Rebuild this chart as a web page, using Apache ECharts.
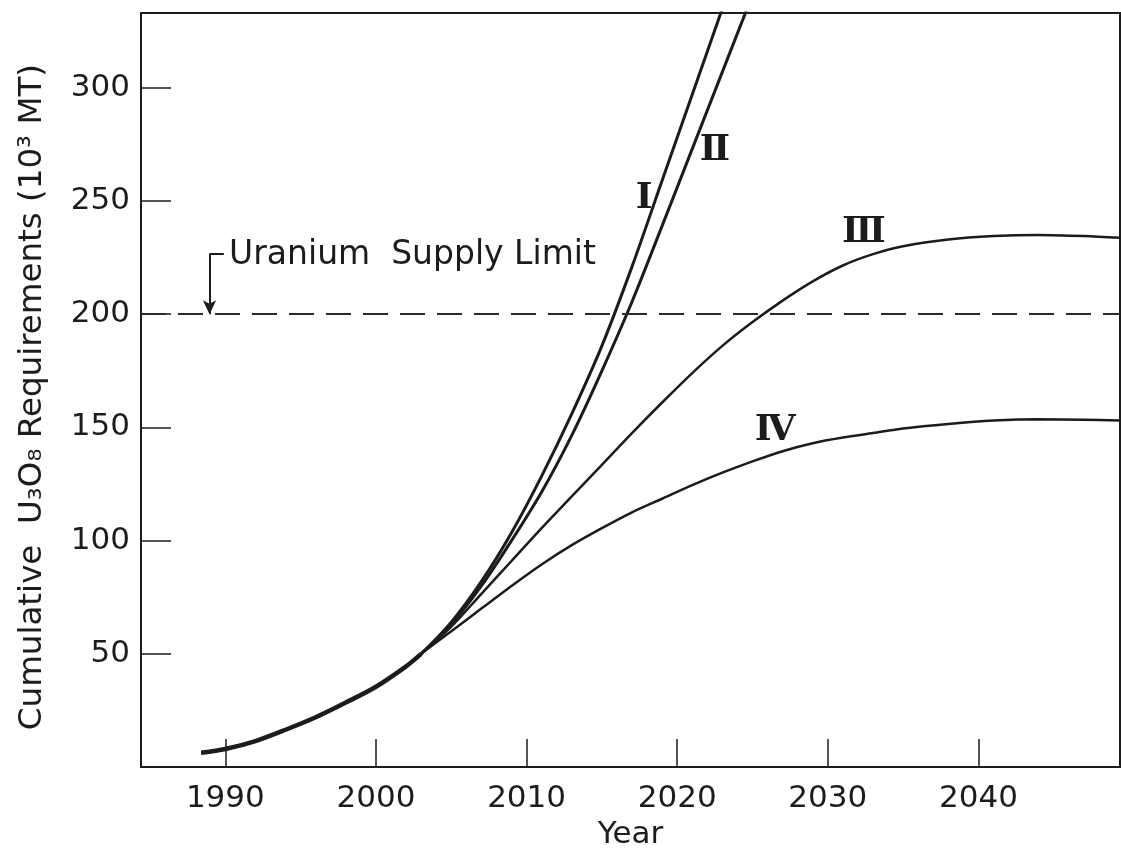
<!DOCTYPE html>
<html>
<head>
<meta charset="utf-8">
<script src="https://cdn.jsdelivr.net/npm/echarts@6/dist/echarts.min.js"></script>
<style>
  html, body { margin: 0; padding: 0; background: #ffffff; }
  #chart { width: 1121px; height: 855px; }
</style>
</head>
<body>
<div id="chart"></div>
<script>
// ---- data ----
const xTickYears = [1990, 2000, 2010, 2020, 2030, 2040];
const yTickValues = [50, 100, 150, 200, 250, 300];

const commonYears  = [1988.4, 1990, 1992, 1994, 1996, 1998, 2000, 2002, 2003];
const commonValues = [6.3, 8, 11.5, 16.5, 22, 28.5, 35.5, 44.5, 50];

const yearsI  = [2005, 2007, 2009, 2011, 2013, 2015, 2017, 2019, 2021, 2023, 2025];
const valuesI = [64, 82, 103.5, 128.5, 156, 186, 221, 259, 297, 335, 373];

const yearsII  = [2005, 2007, 2009, 2011, 2013, 2015, 2017, 2019, 2021, 2023, 2025, 2027];
const valuesII = [63, 80, 100, 121.5, 146.5, 175, 205.5, 239, 273, 307, 341, 375];

const yearsIII  = [2005, 2007, 2009, 2011, 2013, 2015, 2017, 2019, 2021, 2023, 2025, 2027, 2029, 2031, 2033, 2035, 2038, 2041, 2044, 2047, 2049.4];
const valuesIII = [62, 76.5, 91, 105.5, 119.5, 133.5, 147.5, 161, 174, 186, 196.5, 206, 214.5, 221.5, 226.5, 230, 233, 234.5, 235, 234.5, 233.7];

const yearsIV  = [2005, 2007, 2009, 2011, 2013, 2015, 2017, 2019, 2021, 2023, 2025, 2027, 2029, 2031, 2033, 2035, 2038, 2041, 2044, 2047, 2049.4];
const valuesIV = [60, 70, 80, 89.5, 98, 105.5, 112.5, 118.5, 124.5, 130, 135, 139.5, 143, 145.5, 147.5, 149.5, 151.5, 153, 153.6, 153.4, 153];

const supplyLimit = 200;
const supplyLimitText = 'Uranium  Supply Limit';
const supplyLabelAnchor = [1990.25, 225.8];
const supplyArrowTop = [1988.95, 226.8];
const supplyBracketEnd = [1989.9, 226.8];

const curveNames  = ['Ⅰ', 'Ⅱ', 'Ⅲ', 'Ⅳ'];
const curveLabelAt = [[2017.8, 251], [2022.5, 272], [2032.4, 236], [2026.5, 148.5]];

const xMin = 1984.4, xMax = 2049.4, yMin = 0, yMax = 333;

// ---- build ----
function pairs(xs, ys) { return xs.map((x, i) => [x, ys[i]]); }
function withCommon(xs, ys) { return pairs(commonYears, commonValues).concat(pairs(xs, ys)); }

const INK = '#1c1c1c';
const FONT = 'DejaVu Sans';

const chart = echarts.init(document.getElementById('chart'), null, { renderer: 'canvas' });

const curveSeries = [
  [yearsI, valuesI, 3],
  [yearsII, valuesII, 3],
  [yearsIII, valuesIII, 2.5],
  [yearsIV, valuesIV, 2.5]
].map((c, i) => ({
  name: curveNames[i],
  type: 'line',
  data: withCommon(c[0], c[1]),
  smooth: 0.3,
  showSymbol: false,
  symbol: 'none',
  clip: true,
  lineStyle: { color: INK, width: c[2] },
  z: 3
}));

const transparent = 'rgba(0,0,0,0)';

chart.setOption({
  animation: false,
  backgroundColor: '#ffffff',
  grid: {
    left: 141, right: 1, top: 13, bottom: 86,
    show: true, borderColor: INK, borderWidth: 2
  },
  xAxis: {
    type: 'value', min: xMin, max: xMax,
    name: 'Year', nameLocation: 'middle', nameGap: 48,
    nameTextStyle: { fontFamily: FONT, fontSize: 31, color: INK },
    axisLine: { show: true, lineStyle: { color: INK, width: 2 } },
    axisTick: { show: true, inside: true, length: 28, customValues: xTickYears, lineStyle: { color: INK, width: 1.5 } },
    axisLabel: { show: true, customValues: xTickYears, margin: 16, fontFamily: FONT, fontSize: 31, color: INK,
                 formatter: v => String(v) },
    splitLine: { show: false }
  },
  yAxis: {
    type: 'value', min: yMin, max: yMax,
    name: 'Cumulative  U₃O₈ Requirements (10³ MT)', nameLocation: 'middle', nameGap: 92,
    nameTextStyle: { fontFamily: FONT, fontSize: 32.5, color: INK, padding: [0, 14, 0, 0] },
    axisLine: { show: true, lineStyle: { color: INK, width: 2 } },
    axisTick: { show: true, inside: true, length: 30, customValues: yTickValues, lineStyle: { color: INK, width: 1.5 } },
    axisLabel: { show: true, customValues: yTickValues, margin: 11, fontFamily: FONT, fontSize: 31, color: INK,
                 formatter: v => String(v) },
    splitLine: { show: false }
  },
  series: curveSeries.concat([
    {
      name: 'common',
      type: 'line',
      data: pairs(commonYears, commonValues),
      smooth: 0.3,
      symbol: 'none',
      lineStyle: { color: INK, width: 4.5 },
      z: 4,
      markLine: {
        silent: true,
        symbol: 'none',
        label: { show: false },
        lineStyle: { color: '#2a2a2a', width: 2, type: [25, 12] },
        data: [{ yAxis: supplyLimit }]
      }
    },
    {
      name: 'arrow',
      type: 'line',
      data: [],
      markLine: {
        silent: true,
        label: { show: false },
        lineStyle: { color: INK, width: 2, type: 'solid' },
        symbolSize: [10, 14],
        data: [
          [ { coord: supplyArrowTop, symbol: 'none' }, { coord: [supplyArrowTop[0], supplyLimit], symbol: 'arrow' } ],
          [ { coord: supplyArrowTop, symbol: 'none' }, { coord: supplyBracketEnd, symbol: 'none' } ]
        ]
      }
    },
    {
      name: 'supplyText',
      type: 'scatter',
      symbolSize: 2,
      itemStyle: { color: transparent },
      data: [[supplyLabelAnchor[0], supplyLabelAnchor[1], supplyLimitText]],
      label: {
        show: true, position: 'inside', align: 'left', verticalAlign: 'middle',
        formatter: p => p.data[2],
        fontFamily: FONT, fontSize: 33, color: INK, textBorderWidth: 0, opacity: 1
      },
      z: 5
    },
    {
      name: 'curveLabels',
      type: 'scatter',
      symbolSize: 2,
      itemStyle: { color: transparent },
      data: curveLabelAt.map((p, i) => [p[0], p[1], curveNames[i]]),
      label: {
        show: true, position: 'inside', align: 'center', verticalAlign: 'middle',
        formatter: p => p.data[2],
        fontFamily: 'DejaVu Serif', fontSize: 36, fontWeight: 'bold', color: INK, textBorderWidth: 0, opacity: 1
      },
      z: 5
    }
  ])
});
</script>
</body>
</html>
